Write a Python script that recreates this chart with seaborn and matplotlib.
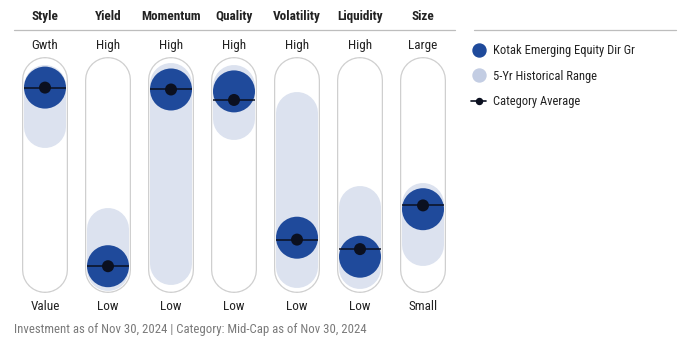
import pandas as pd
import numpy as np
import seaborn as sns
import matplotlib.pyplot as plt
from matplotlib.lines import Line2D

# ---- Data (0 = Low/Value/Small, 100 = High/Growth/Large) ----
factors = ['Style', 'Yield', 'Momentum', 'Quality', 'Volatility', 'Liquidity', 'Size']
top_labels = ['Gwth', 'High', 'High', 'High', 'High', 'High', 'Large']
bottom_labels = ['Value', 'Low', 'Low', 'Low', 'Low', 'Low', 'Small']
fund = [96, 2, 95, 94, 17, 7, 32]
cat_avg = [96, 2, 95, 89.5, 16, 11, 34]
range_low = [75, 0, 3, 79.5, 1.5, 1, 13]
range_high = [97, 21.5, 98, 97, 82.5, 33, 35]
footer = 'Investment as of Nov 30, 2024 | Category: Mid-Cap as of Nov 30, 2024'
fund_name = 'Kotak Emerging Equity Dir Gr'

FUND_C = '#1f4a9b'
RANGE_C = '#dce2ef'
TUBE_C = '#cfcfcf'
TXT_C = '#222222'

sns.set_style('white')
plt.rcParams['font.family'] = ['Roboto Condensed', 'Archivo Narrow', 'DejaVu Sans']

fig = plt.figure(figsize=(6.83, 3.5), dpi=100)
ax = fig.add_axes([13.5 / 683, 0, 441 / 683, 1])
ax.axis('off')

px = 72 / 100  # points per pixel
x = np.arange(len(factors))

# tubes: grey outline + white inside, round caps
for i in x:
    ax.plot([i, i], [0, 100], color=TUBE_C, lw=46 * px, solid_capstyle='round', zorder=1)
    ax.plot([i, i], [0, 100], color='white', lw=43.5 * px, solid_capstyle='round', zorder=2)
    # historical range
    ax.plot([i, i], [range_low[i], range_high[i]], color=RANGE_C, lw=42 * px,
            solid_capstyle='round', zorder=3)

df = pd.DataFrame({'x': x, 'fund': fund, 'avg': cat_avg})
sns.scatterplot(data=df, x='x', y='fund', s=(42 * px) ** 2, color=FUND_C,
                edgecolor='none', ax=ax, zorder=4, legend=False)
ax.hlines(cat_avg, x - 0.335, x + 0.335, color='#0b1020', lw=1.1, zorder=5)
sns.scatterplot(data=df, x='x', y='avg', s=(12 * px) ** 2, color='#0b1020',
                edgecolor='none', ax=ax, zorder=6, legend=False)
ax.set_xlim(-0.5, 6.5)
ax.set_ylim(-42.1, 142.1)

for i in x:
    ax.text(i, 133.6, factors[i], ha='center', va='center', fontsize=9.5,
            fontweight='bold', color=TXT_C)
    ax.text(i, 118.4, top_labels[i], ha='center', va='center', fontsize=9.5, color=TXT_C)
    ax.text(i, -19.3, bottom_labels[i], ha='center', va='center', fontsize=9.5, color=TXT_C)

# separator lines
fig.add_artist(Line2D([14 / 683, 455 / 683], [1 - 30 / 350] * 2, color='#bdbdbd', lw=0.9))
fig.add_artist(Line2D([474 / 683, 676 / 683], [1 - 30 / 350] * 2, color='#bdbdbd', lw=0.9))

fig.text(14 / 683, 1 - 330 / 350, footer, ha='left', va='center', fontsize=9.2, color='#7a7a7a')

# legend
handles = [
    Line2D([], [], marker='o', ls='none', markersize=13 * px, color=FUND_C, label=fund_name),
    Line2D([], [], marker='o', ls='none', markersize=13 * px, color='#c3cde3', label='5-Yr Historical Range'),
    Line2D([], [], marker='o', ls='-', lw=1.2, markersize=6 * px, color='#0b1020', label='Category Average'),
]
fig.legend(handles=handles, loc='upper left', bbox_to_anchor=(460 / 683, 1 - 33 / 350),
           frameon=False, fontsize=9, handlelength=1.2, handletextpad=0.55,
           labelspacing=1.0, labelcolor=TXT_C)

fig.savefig('out.png', dpi=100)
